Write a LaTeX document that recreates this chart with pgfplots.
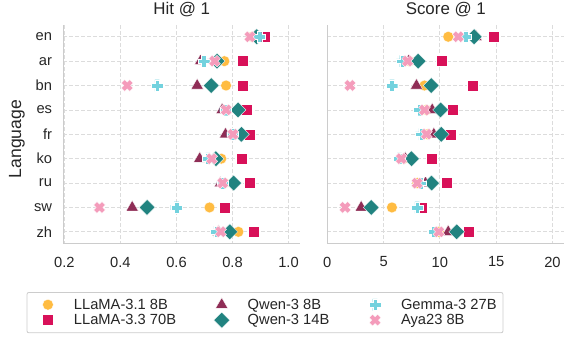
\documentclass[border=0pt]{standalone}
\usepackage{fontspec}
\setmainfont{Liberation Sans}
\usepackage{pgfplots}
\usepackage{pgfplotstable}
\pgfplotsset{compat=1.18}

\definecolor{cA}{HTML}{FFBC42}
\definecolor{cB}{HTML}{D81159}
\definecolor{cC}{HTML}{8F2D56}
\definecolor{cD}{HTML}{218380}
\definecolor{cE}{HTML}{73D2DE}
\definecolor{cF}{HTML}{F49CBB}
\definecolor{gridc}{HTML}{DCDCDC}
\definecolor{spinec}{HTML}{CCCCCC}
\definecolor{txt}{HTML}{262626}

\pgfdeclareplotmark{fplus}{%
  \pgfpathmoveto{\pgfqpoint{-.4\pgfplotmarksize}{\pgfplotmarksize}}%
  \pgfpathlineto{\pgfqpoint{.4\pgfplotmarksize}{\pgfplotmarksize}}%
  \pgfpathlineto{\pgfqpoint{.4\pgfplotmarksize}{.4\pgfplotmarksize}}%
  \pgfpathlineto{\pgfqpoint{\pgfplotmarksize}{.4\pgfplotmarksize}}%
  \pgfpathlineto{\pgfqpoint{\pgfplotmarksize}{-.4\pgfplotmarksize}}%
  \pgfpathlineto{\pgfqpoint{.4\pgfplotmarksize}{-.4\pgfplotmarksize}}%
  \pgfpathlineto{\pgfqpoint{.4\pgfplotmarksize}{-\pgfplotmarksize}}%
  \pgfpathlineto{\pgfqpoint{-.4\pgfplotmarksize}{-\pgfplotmarksize}}%
  \pgfpathlineto{\pgfqpoint{-.4\pgfplotmarksize}{-.4\pgfplotmarksize}}%
  \pgfpathlineto{\pgfqpoint{-\pgfplotmarksize}{-.4\pgfplotmarksize}}%
  \pgfpathlineto{\pgfqpoint{-\pgfplotmarksize}{.4\pgfplotmarksize}}%
  \pgfpathlineto{\pgfqpoint{-.4\pgfplotmarksize}{.4\pgfplotmarksize}}%
  \pgfpathclose
  \pgfusepathqfillstroke
}

\pgfplotstableread{
y A B C D E F
0 0.870 0.914 0.880 0.886 0.896 0.862
1 0.771 0.838 0.686 0.745 0.698 0.736
2 0.777 0.837 0.674 0.724 0.531 0.424
3 0.780 0.850 0.763 0.820 0.775 0.777
4 0.800 0.861 0.775 0.832 0.800 0.802
5 0.760 0.831 0.683 0.741 0.712 0.726
6 0.770 0.861 0.757 0.804 0.765 0.765
7 0.718 0.773 0.442 0.495 0.600 0.325
8 0.821 0.874 0.750 0.790 0.742 0.758
}\hittab

\pgfplotstableread{
y A B C D E F
0 10.74 14.76 13.20 13.04 12.29 11.64
1 7.30 10.12 7.23 8.07 6.64 7.14
2 8.63 12.89 7.92 9.23 5.74 2.02
3 8.80 11.10 9.32 10.06 8.18 8.63
4 8.90 10.95 9.46 10.12 8.33 8.81
5 6.80 9.26 6.93 7.47 6.40 6.58
6 8.00 10.60 8.72 9.26 8.30 7.98
7 5.74 8.42 3.01 3.90 7.98 1.58
8 9.90 12.59 10.74 11.49 9.46 9.91
}\scoretab

\pgfplotsset{
  sA/.style={only marks, mark=*, mark size=5.4pt, mark options={fill=cA, draw=white, line width=0.3pt}},
  sB/.style={only marks, mark=square*, mark size=5.5pt, mark options={fill=cB, draw=white, line width=0.3pt}},
  sC/.style={only marks, mark=triangle*, mark size=7pt, mark options={fill=cC, draw=white, line width=0.3pt}},
  sD/.style={only marks, mark=square*, mark size=5.6pt, mark options={rotate=45, fill=cD, draw=white, line width=0.3pt}},
  sE/.style={only marks, mark=fplus, mark size=5.8pt, mark options={fill=cE, draw=white, line width=0.3pt}},
  sF/.style={only marks, mark=fplus, mark size=5.9pt, mark options={rotate=45, fill=cF, draw=white, line width=0.3pt}},
  limg/.style={legend image code/.code={%
      \path[draw=none, fill=none] (-14.6pt,-7.5pt) rectangle (26pt,7.5pt);
      \draw[##1] plot coordinates {(0pt,0pt)};}},
  myax/.style={
    scale only axis, width=237pt, height=218pt,
    ymin=-0.47, ymax=8.47, y dir=reverse,
    ytick={0,1,2,3,4,5,6,7,8},
    grid=major,
    major grid style={gridc, line width=0.8pt, dash pattern=on 4pt off 2pt},
    axis x line*=bottom, axis y line*=left,
    axis line style={-, spinec, line width=1.3pt},
    major tick length=0pt,
    tick style={draw=none},
    /pgf/number format/assume math mode=true,
    tick label style={font=\fontsize{14.7}{17}\selectfont, text=txt},
    xticklabel style={yshift=-10pt},
    yticklabel style={xshift=-7.7pt},
    title style={font=\fontsize{16.9}{20}\selectfont, text=txt, yshift=-1.5pt},
    clip=false,
  },
}

\begin{document}
\begin{tikzpicture}
\path[use as bounding box] (0,0) rectangle (565pt,343pt);
\begin{axis}[myax,
  at={(63.3pt,99.7pt)}, anchor=south west,
  xmin=0.196, xmax=1.042,
  xtick={0.2,0.4,0.6,0.8,1.0},
  xticklabels={0.2,0.4,0.6,0.8,1.0},
  yticklabels={en,ar,bn,es,fr,ko,ru,sw,zh},
  title={Hit @ 1},
  ylabel={Language},
  ylabel style={at={(axis description cs:-0.1616,0.478)}, anchor=south, inner sep=0pt, rotate=0, font=\fontsize{17.6}{20}\selectfont, text=txt},
  legend columns=3,
  legend style={at={(axis description cs:0.851,-0.318)}, anchor=center,
    draw=spinec, line width=0.8pt, rounded corners=2pt,
    inner xsep=6.4pt, inner ysep=4.8pt,
    font=\fontsize{14.7}{17}\selectfont, text=txt,
    nodes={inner sep=0pt, draw=none},
    cells={anchor=west},
    /tikz/every even column/.append style={column sep=31pt}},
]
\addplot[sA, forget plot] table[x=A, y=y] {\hittab};
\addplot[sB, forget plot] table[x=B, y=y] {\hittab};
\addplot[sC, forget plot] table[x=C, y=y] {\hittab};
\addplot[sD, forget plot] table[x=D, y=y] {\hittab};
\addplot[sE, forget plot] table[x=E, y=y] {\hittab};
\addplot[sF, forget plot] table[x=F, y=y] {\hittab};
\addlegendimage{sA, limg}\addlegendentry{LLaMA-3.1 8B}
\addlegendimage{sC, limg}\addlegendentry{Qwen-3 8B}
\addlegendimage{sE, limg}\addlegendentry{Gemma-3 27B}
\addlegendimage{sB, limg}\addlegendentry{LLaMA-3.3 70B}
\addlegendimage{sD, limg}\addlegendentry{Qwen-3 14B}
\addlegendimage{sF, limg}\addlegendentry{Aya23 8B}
\end{axis}
\begin{axis}[myax,
  at={(327.3pt,99.7pt)}, anchor=south west,
  xmin=0, xmax=21.05,
  xtick={0,5,10,15,20},
  yticklabels={},
  title={Score @ 1},
]
\addplot[sA] table[x=A, y=y] {\scoretab};
\addplot[sB] table[x=B, y=y] {\scoretab};
\addplot[sC] table[x=C, y=y] {\scoretab};
\addplot[sD] table[x=D, y=y] {\scoretab};
\addplot[sE] table[x=E, y=y] {\scoretab};
\addplot[sF] table[x=F, y=y] {\scoretab};
\end{axis}
\end{tikzpicture}
\end{document}
